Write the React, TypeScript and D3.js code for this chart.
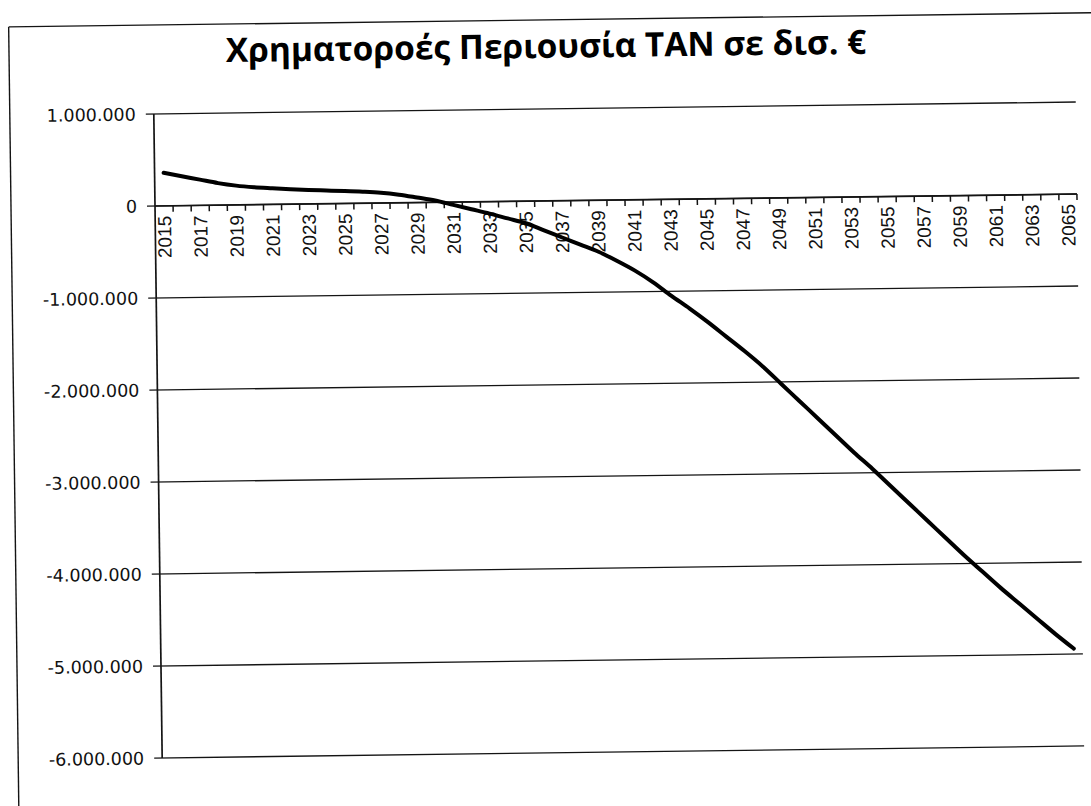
import React from 'react';
import * as d3 from 'd3';

const years = [
  2015, 2016, 2017, 2018, 2019, 2020, 2021, 2022, 2023, 2024,
  2025, 2026, 2027, 2028, 2029, 2030, 2031, 2032, 2033, 2034,
  2035, 2036, 2037, 2038, 2039, 2040, 2041, 2042, 2043, 2044,
  2045, 2046, 2047, 2048, 2049, 2050, 2051, 2052, 2053, 2054,
  2055, 2056, 2057, 2058, 2059, 2060, 2061, 2062, 2063, 2064,
  2065,
];

// Χρηματοροές (in €)
const flows = [
  360000, 320000, 280000, 240000, 210000, 190000, 176000, 163000, 152000, 144000,
  136000, 126000, 112000, 88000, 55000, 20000, -30000, -80000, -130000, -185000,
  -240000, -320000, -400000, -480000, -560000, -660000, -770000, -900000, -1050000, -1190000,
  -1340000, -1500000, -1660000, -1830000, -2020000, -2210000, -2400000, -2590000, -2780000, -2960000,
  -3150000, -3340000, -3530000, -3720000, -3910000, -4090000, -4270000, -4440000, -4610000, -4780000,
  -4940000,
];

const yTicks = [1000000, 0, -1000000, -2000000, -3000000, -4000000, -5000000, -6000000];

const title = 'Χρηματοροές Περιουσία ΤΑΝ σε δισ. €';

const W = 1091;
const H = 806;
const left = 155;
const right = 1077;
const top = 114;
const bottom = 758;

const locale = d3.formatLocale({
  decimal: ',',
  thousands: '.',
  grouping: [3],
  currency: ['', '€'],
  minus: '-',
});
const fmt = locale.format(',d');

export default function App() {
  const x = d3.scaleBand<number>().domain(years).range([left, right]).padding(0);
  const y = d3.scaleLinear().domain([-6000000, 1000000]).range([bottom, top]);
  const y0 = y(0);

  const line = d3
    .line<number>()
    .x((d, i) => (x(years[i]) as number) + x.bandwidth() / 2)
    .y((d) => y(d))
    .curve(d3.curveMonotoneX);

  const ink = '#141414';

  return (
    <svg
      width={W}
      height={H}
      style={{ position: 'absolute', left: 0, top: 0, display: 'block' }}
    >
      <rect width={W} height={H} fill="#fff" />
      {/* scanned page is a little skewed */}
      <g transform={`rotate(-0.745 ${left} ${y0})`}>
        {/* chart area border */}
        <line x1={11} x2={W + 40} y1={25} y2={25} stroke={ink} strokeWidth={1.4} />
        <line x1={11} x2={11} y1={25} y2={H + 40} stroke={ink} strokeWidth={1.4} />

        <text
          x={548}
          y={63}
          textAnchor="middle"
          fontFamily="'Open Sans', sans-serif"
          fontWeight={700}
          fontSize={33.5}
          fill="#000"
        >
          {title}
        </text>

        {/* gridlines + y axis */}
        {yTicks.map((t) => (
          <g key={t}>
            <line x1={left - 8} x2={right} y1={y(t)} y2={y(t)} stroke={ink} strokeWidth={1.3} />
            <text
              x={left - 18}
              y={y(t)}
              dy="0.36em"
              textAnchor="end"
              fontFamily="'DejaVu Sans', sans-serif"
              fontSize={17.5}
              fill="#111"
            >
              {fmt(t)}
            </text>
          </g>
        ))}
        <line x1={left} x2={left} y1={top} y2={bottom} stroke={ink} strokeWidth={1.7} />

        {/* category axis at zero */}
        <line x1={left} x2={right} y1={y0} y2={y0} stroke={ink} strokeWidth={1.7} />
        {years.map((yr) => (
          <line
            key={'t' + yr}
            x1={(x(yr) as number) + x.bandwidth()}
            x2={(x(yr) as number) + x.bandwidth()}
            y1={y0}
            y2={y0 + 6}
            stroke={ink}
            strokeWidth={1.5}
          />
        ))}
        {years
          .filter((yr, i) => i % 2 === 0)
          .map((yr) => {
            const cx = (x(yr) as number) + x.bandwidth() / 2;
            return (
              <text
                key={'l' + yr}
                transform={`translate(${cx},${y0 + 10}) rotate(-90)`}
                dy="0.36em"
                textAnchor="end"
                fontFamily="'Liberation Sans', Arial, sans-serif"
                fontSize={19}
                fill="#111"
              >
                {yr}
              </text>
            );
          })}

        <path
          d={line(flows) || ''}
          fill="none"
          stroke="#000"
          strokeWidth={4}
          strokeLinecap="round"
          strokeLinejoin="round"
        />
      </g>
    </svg>
  );
}
